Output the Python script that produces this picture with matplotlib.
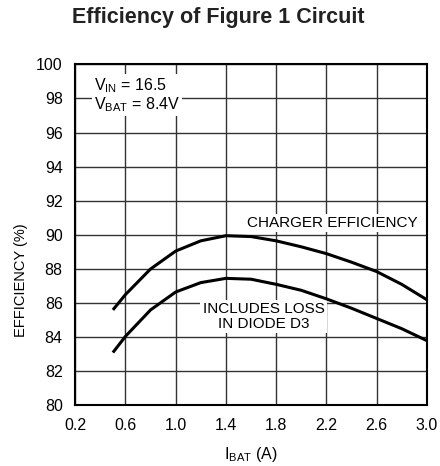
import matplotlib
matplotlib.use("Agg")
import matplotlib.pyplot as plt

FONT = ["Liberation Sans", "DejaVu Sans"]
plt.rcParams['font.family'] = FONT
plt.rcParams['mathtext.fontset'] = 'custom'
plt.rcParams['mathtext.rm'] = 'Liberation Sans'

i_bat = [0.5, 0.6, 0.8, 1.0, 1.2, 1.4, 1.6, 1.8, 2.0, 2.2, 2.4, 2.6, 2.8, 3.0]
charger_eff = [85.6, 86.5, 88.0, 89.05, 89.65, 89.95, 89.9, 89.65, 89.3, 88.9, 88.4, 87.85, 87.1, 86.2]
with_diode = [83.1, 84.05, 85.6, 86.65, 87.2, 87.45, 87.4, 87.1, 86.75, 86.25, 85.7, 85.1, 84.5, 83.8]
x_ticks = [0.2, 0.6, 1.0, 1.4, 1.8, 2.2, 2.6, 3.0]
x_tick_labels = ["0.2", "0.6", "1.0", "1.4", "1.8", "2.2", "2.6", "3.0"]
y_ticks = [80, 82, 84, 86, 88, 90, 92, 94, 96, 98, 100]

fig = plt.figure(figsize=(4.4, 4.66), dpi=100)
ax = fig.add_axes([0.171, 0.130, 0.799, 0.732])

ax.plot(i_bat, charger_eff, color='black', lw=2.2, solid_capstyle='butt', zorder=3)
ax.plot(i_bat, with_diode, color='black', lw=2.2, solid_capstyle='butt', zorder=3)

ax.set_xlim(0.2, 3.0)
ax.set_ylim(80, 100)
ax.set_xticks(x_ticks)
ax.set_xticklabels(x_tick_labels)
ax.set_yticks(y_ticks)
ax.tick_params(axis='y', length=0, labelsize=11.5, pad=9)
ax.tick_params(axis='x', length=0, labelsize=11.5, pad=9)
ax.grid(True, color='#333333', lw=1.0)
ax.set_axisbelow(True)
for s in ax.spines.values():
    s.set_linewidth(1.5)

ax.set_xlabel(r"I$_{\mathrm{BAT}}$ (A)", fontsize=11.5)
ax.xaxis.set_label_coords(0.5, -0.115)
ax.set_ylabel("EFFICIENCY (%)", fontsize=10.5)
ax.yaxis.set_label_coords(-0.135, 0.367)
fig.text(0.497, 0.962, "Efficiency of Figure 1 Circuit", ha='center', va='center',
         fontsize=15.5, fontweight='bold', color='#222222')

bbox = dict(facecolor='white', edgecolor='none', pad=1.5)
ax.text(0.35, 98.2, "V$_{\\mathrm{IN}}$ = 16.5\nV$_{\\mathrm{BAT}}$ = 8.4V", fontsize=11.5,
        ha='left', va='center', multialignment='left', linespacing=1.0, bbox=bbox, zorder=2)
ax.text(2.25, 90.69, "CHARGER EFFICIENCY", fontsize=11, ha='center', va='center',
        bbox=bbox, zorder=2)
ax.text(1.70, 85.2, "INCLUDES LOSS\nIN DIODE D3", fontsize=11, ha='center', va='center',
        linespacing=1.05, bbox=bbox, zorder=2)

fig.savefig("out.png", dpi=100)
